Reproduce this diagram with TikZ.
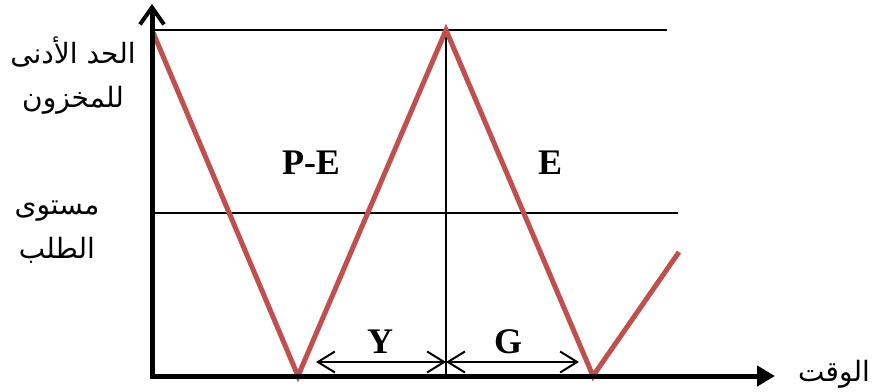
\documentclass[tikz,border=0pt]{standalone}
\usepackage{fontspec}
\setmainfont{Liberation Serif}
\newfontfamily\arabicfont[Script=Arabic]{DejaVu Sans}
\TeXXeTstate=1
\usetikzlibrary{arrows.meta}
\definecolor{zig}{RGB}{192,80,77}
\tikzset{
  vaxis/.style={line width=5pt,-{Straight Barb[length=17pt,width=24pt,line width=4pt]}},
  haxis/.style={line width=5pt,-{Triangle[length=18pt,width=20pt]}},
  thinline/.style={line width=1.5pt},
  zigline/.style={line width=5pt,zig,line join=miter},
  span/.style={line width=2pt,{Straight Barb[length=17pt,width=21pt,line width=2pt]}-{Straight Barb[length=17pt,width=21pt,line width=2pt]}},
  lat/.style={font=\fontsize{36}{40}\selectfont\bfseries},
  arab/.style={font=\arabicfont\fontsize{28}{44}\selectfont,align=center}
}
\begin{document}
\begin{tikzpicture}[x=1pt,y=-1pt]
\useasboundingbox (0,0) rectangle (880,391);
\coordinate (O) at (152,376);
\coordinate (Ytop) at (152,4);
\coordinate (Xend) at (775,376);
\coordinate (T0) at (152,30);
\coordinate (T1) at (667,30);
\coordinate (M0) at (152,213);
\coordinate (M1) at (678,213);
\coordinate (Vt) at (446,30);
\coordinate (Vb) at (446,376);
\coordinate (B1) at (298,376);
\coordinate (B2) at (593,376);
\coordinate (Z) at (679,252);
\coordinate (Ya) at (316,362);
\coordinate (Yb) at (446,362);
\coordinate (Gb) at (579,362);
\draw[thinline] (T0) -- (T1);
\draw[thinline] (M0) -- (M1);
\draw[thinline] (Vt) -- (Vb);
\draw[zigline] (T0) -- (B1) -- (Vt) -- (B2) -- (Z);
\draw[vaxis] ([yshift=2pt]O) -- (Ytop);
\draw[haxis] ([xshift=-2pt]O) -- (Xend);
\draw[span] (Ya) -- (Yb);
\draw[span] (Yb) -- (Gb);
\node[lat] (ylab) at (380,342) {Y};
\node[lat] (glab) at (508,342) {G};
\node[lat] (pe) at (311,163) {P-E};
\node[lat] (e) at (550,163) {E};
\node[arab] (min) at (73,76) {\beginR الحد الأدنى\endR\\\beginR للمخزون\endR};
\node[arab] (dem) at (57,232) {\beginR مستوى\endR\\\beginR الطلب\endR};
\node[arab] (time) at (834,374) {\beginR الوقت\endR};
\end{tikzpicture}
\end{document}
